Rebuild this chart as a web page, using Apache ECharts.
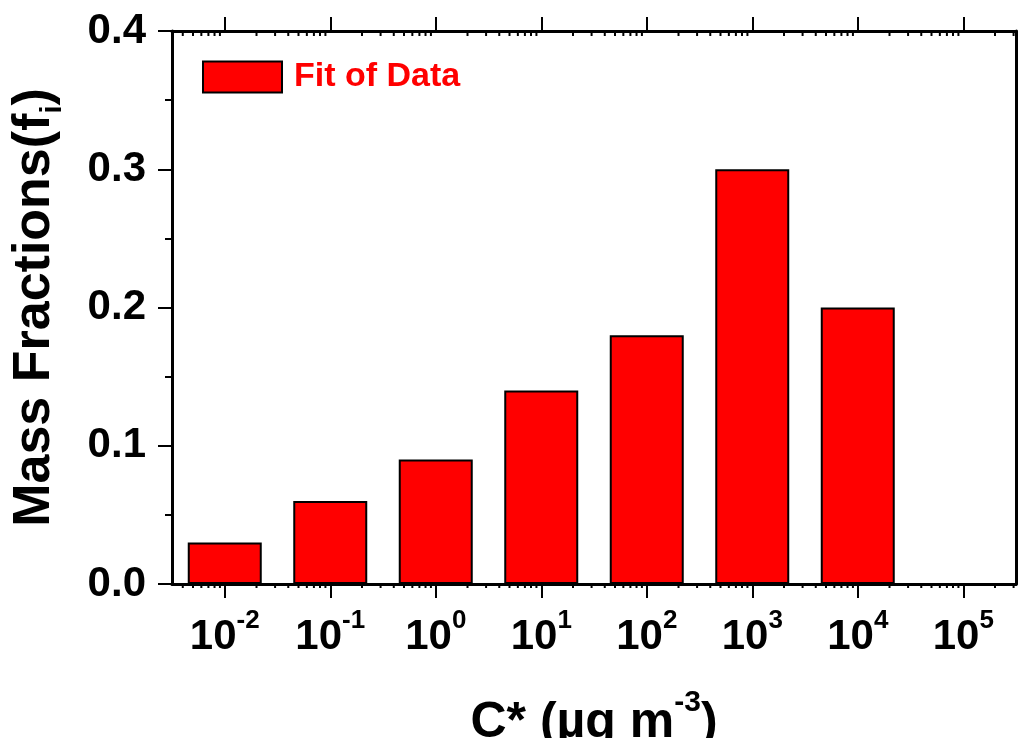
<!DOCTYPE html>
<html>
<head>
<meta charset="utf-8">
<script src="https://cdn.jsdelivr.net/npm/echarts@6/dist/echarts.min.js"></script>
<style>
html,body{margin:0;padding:0;background:#fff;}
#chart{width:1018px;height:738px;}
</style>
</head>
<body>
<div id="chart"></div>
<script>
// ---- data ----
const exponents = [-2, -1, 0, 1, 2, 3, 4, 5];           // C* bins, 10^n
const massFractions = [0.03, 0.06, 0.09, 0.14, 0.18, 0.30, 0.20, 0]; // f_i
const seriesName = 'Fit of Data';
const yTicks = [0.0, 0.1, 0.2, 0.3, 0.4];
const xAxisTitle = ['C* (µg m', '-3', ')'];
const yAxisTitle = ['Mass Fractions(f', 'i', ')'];

// log minor tick positions (axis decoration), in log10 units
const minorMultipliers = [2, 3, 4, 5, 6, 7, 8, 9];
const minorDecades = [-3, -2, -1, 0, 1, 2, 3, 4, 5];
const minorTickPos = [];
minorDecades.forEach(d => minorMultipliers.forEach(m => {
  const v = d + Math.log10(m);
  if (v > -2.5 && v < 5.5) minorTickPos.push([v]);
}));

const categories = exponents.map(e => String(e));
const FONT = '"Liberation Sans", Arial, sans-serif';

const chart = echarts.init(document.getElementById('chart'), null, {renderer: 'canvas'});
const option = {
  backgroundColor: '#ffffff',
  animation: false,
  grid: {left: 172, right: 2, top: 31, bottom: 154, containLabel: false, outerBoundsMode: 'none'},
  legend: {
    data: [seriesName],
    left: 197, top: 55,
    itemWidth: 79, itemHeight: 31,
    icon: 'rect',
    itemStyle: {color: '#ff0000', borderColor: '#000', borderWidth: 2},
    textStyle: {color: '#ff0000', fontSize: 34, fontWeight: 'bold', fontFamily: FONT, padding: [0, 0, 0, 7]}
  },
  xAxis: [
    {
      type: 'category', data: categories, position: 'bottom', boundaryGap: true,
      axisLine: {show: true, onZero: false, lineStyle: {color: '#000', width: 3}},
      axisTick: {show: true, alignWithLabel: true, inside: false, length: 14, lineStyle: {color: '#000', width: 2}},
      axisLabel: {
        margin: 24, interval: 0,
        formatter: v => '{b|10}{s|' + v + '}',
        rich: {
          b: {fontSize: 42, fontWeight: 'bold', fontFamily: FONT, color: '#000', lineHeight: 50, verticalAlign: 'bottom'},
          s: {fontSize: 26, fontWeight: 'bold', fontFamily: FONT, color: '#000', lineHeight: 26, verticalAlign: 'top'}
        }
      },
      splitLine: {show: false},
      name: '{b|' + xAxisTitle[0] + '}{s|' + xAxisTitle[1] + '}{b|' + xAxisTitle[2] + '}',
      nameLocation: 'middle', nameGap: 104,
      nameTextStyle: {
        rich: {
          b: {fontSize: 50, fontWeight: 'bold', fontFamily: FONT, color: '#000', lineHeight: 60, verticalAlign: 'bottom'},
          s: {fontSize: 30, fontWeight: 'bold', fontFamily: FONT, color: '#000', lineHeight: 30, verticalAlign: 'top'}
        }
      }
    },
    {
      type: 'category', data: categories, position: 'top', boundaryGap: true,
      axisLine: {show: true, onZero: false, lineStyle: {color: '#000', width: 3}},
      axisTick: {show: true, alignWithLabel: true, inside: false, length: 14, lineStyle: {color: '#000', width: 2}},
      axisLabel: {show: false},
      splitLine: {show: false}
    },
    {
      type: 'value', min: -2.5, max: 5.5, show: false, position: 'bottom',
      axisLine: {onZero: false},
      splitLine: {show: false}
    }
  ],
  yAxis: [
    {
      type: 'value', min: yTicks[0], max: yTicks[yTicks.length - 1], interval: 0.1, position: 'left',
      axisLine: {show: true, onZero: false, lineStyle: {color: '#000', width: 3}},
      axisTick: {show: true, inside: false, length: 14, lineStyle: {color: '#000', width: 2}},
      minorTick: {show: true, splitNumber: 2, length: 7, lineStyle: {color: '#000', width: 2}},
      axisLabel: {
        margin: 26, fontSize: 42, fontWeight: 'bold', fontFamily: FONT, color: '#000',
        padding: [0, 0, 8, 0],
        formatter: v => v.toFixed(1)
      },
      splitLine: {show: false},
      name: '{b|' + yAxisTitle[0] + '}{s|' + yAxisTitle[1] + '}{b|' + yAxisTitle[2] + '}',
      nameLocation: 'middle', nameGap: 105, nameRotate: 90,
      nameTextStyle: {
        rich: {
          b: {fontSize: 52, fontWeight: 'bold', fontFamily: FONT, color: '#000', lineHeight: 58, verticalAlign: 'top'},
          s: {fontSize: 29, fontWeight: 'bold', fontFamily: FONT, color: '#000', lineHeight: 29, verticalAlign: 'bottom'}
        }
      }
    },
    {
      type: 'value', min: yTicks[0], max: yTicks[yTicks.length - 1], interval: 0.1, position: 'right',
      axisLine: {show: true, onZero: false, lineStyle: {color: '#000', width: 3}},
      axisTick: {show: false}, axisLabel: {show: false}, splitLine: {show: false}
    }
  ],
  series: [
    {
      name: seriesName, type: 'bar', xAxisIndex: 0, yAxisIndex: 0,
      data: massFractions, barWidth: 74,
      itemStyle: {color: '#ff0000', borderColor: '#000', borderWidth: 2},
      emphasis: {disabled: true}
    },
    {
      name: 'minorTicks', type: 'custom', xAxisIndex: 2, yAxisIndex: 0,
      data: minorTickPos, silent: true, clip: false,
      renderItem: (params, api) => {
        const b = api.coord([api.value(0), 0]);
        const t = api.coord([api.value(0), 0.4]);
        return {
          type: 'group',
          children: [
            {type: 'line', shape: {x1: b[0], y1: b[1] + 1, x2: b[0], y2: b[1] + 4}, style: {stroke: '#000', lineWidth: 2}},
            {type: 'line', shape: {x1: t[0], y1: t[1] + 1, x2: t[0], y2: t[1] + 5}, style: {stroke: '#000', lineWidth: 2}}
          ]
        };
      }
    }
  ]
};
chart.setOption(option);
</script>
</body>
</html>
